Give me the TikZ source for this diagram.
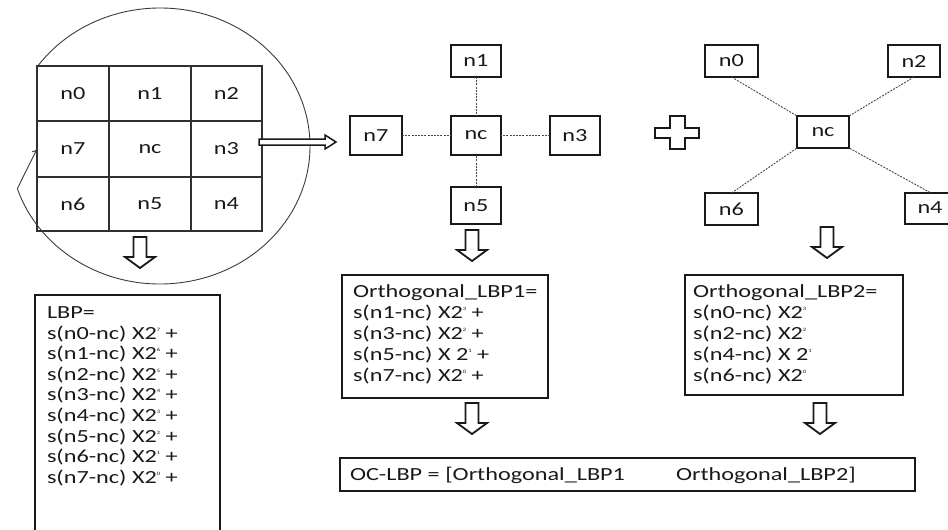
\documentclass[tikz,border=0pt]{standalone}
\usepackage{fontspec}
\setmainfont{Carlito}[FakeStretch=1.31]
\usetikzlibrary{arrows.meta}
\definecolor{ink}{RGB}{25,25,25}
\newcommand\ex[1]{\raisebox{8pt}{\fontsize{5}{5}\selectfont #1}}
\begin{document}
\begin{tikzpicture}[x=1pt,y=-1pt,
  font=\fontsize{18.5}{22}\selectfont, text=ink,
  every node/.style={inner sep=0pt, outer sep=0pt},
  txt/.style={anchor=base west},
  cell/.style={draw=ink!90, line width=1.3pt, minimum height=#1},
  nbox/.style={draw=ink, line width=2pt},
  tbox/.style={draw=ink, line width=2pt, anchor=north west},
  dline/.style={draw=ink!80, line width=0.9pt, dash pattern=on 2pt off 1.2pt},
  blockarrow/.style={draw=ink, line width=1.8pt, fill=white, line join=miter},
  pics/downarr/.style={code={
    \draw[blockarrow] (-6.5,0) -- (6.5,0) -- (6.5,20) -- (15,20) -- (0,31)
      -- (-15,20) -- (-6.5,20) -- cycle;}}
]
\useasboundingbox (0,0) rectangle (948,530);

% ---------- grid in ellipse ----------
\draw[ink!85, line width=0.9pt] (160,146) ++(215:150 and 138)
  arc[start angle=215, end angle=522, x radius=150, y radius=138]
  coordinate (arcend);
\node[cell=55pt, minimum width=72pt] (g0) at (73,93.5) {n0};
\node[cell=55pt, minimum width=82pt] (g1) at (150,93.5) {n1};
\node[cell=55pt, minimum width=71pt] (g2) at (226.5,93.5) {n2};
\node[cell=56pt, minimum width=72pt] (g7) at (73,149) {n7};
\node[cell=56pt, minimum width=82pt] (gc) at (150,149) {nc};
\node[cell=56pt, minimum width=71pt] (g3) at (226.5,149) {n3};
\node[cell=54pt, minimum width=72pt] (g6) at (73,204) {n6};
\node[cell=54pt, minimum width=82pt] (g5) at (150,204) {n5};
\node[cell=54pt, minimum width=71pt] (g4) at (226.5,204) {n4};
\draw[ink!85, line width=0.9pt, -{To[length=5pt,width=7pt]}] (arcend) -- (g7.west);

% right block arrow
\draw[blockarrow, line width=1.5pt] (259,139) -- (325,139) -- (325,135) -- (336,142)
  -- (325,149) -- (325,145) -- (259,145) -- cycle;
\pic at (140,237) {downarr};

% ---------- orthogonal neighbours ----------
\node[nbox, minimum width=50pt, minimum height=32pt] (a1) at (476,61) {n1};
\node[nbox, minimum width=50pt, minimum height=39pt] (ac) at (476,135.5) {nc};
\node[nbox, minimum width=52pt, minimum height=39pt] (a7) at (376,135.5) {n7};
\node[nbox, minimum width=50pt, minimum height=39pt] (a3) at (575,135.5) {n3};
\node[nbox, minimum width=50pt, minimum height=37pt] (a5) at (476,205.5) {n5};
\draw[dline] (a1) -- (ac);
\draw[dline] (a5) -- (ac);
\draw[dline] (a7) -- (ac);
\draw[dline] (a3) -- (ac);
\pic at (472,230) {downarr};

% plus sign
\draw[blockarrow, line width=2pt] (670,116) -- (685,116) -- (685,128) -- (699,128)
  -- (699,138) -- (685,138) -- (685,149) -- (670,149) -- (670,138) -- (655,138)
  -- (655,128) -- (670,128) -- cycle;

% ---------- diagonal neighbours ----------
\node[nbox, minimum width=53pt, minimum height=32pt] (b0) at (731.5,61) {n0};
\node[nbox, minimum width=52pt, minimum height=32pt] (b2) at (914,61) {n2};
\node[nbox, minimum width=52pt, minimum height=32pt] (bc) at (823,132) {nc};
\node[nbox, minimum width=53pt, minimum height=32pt] (b6) at (731.5,209) {n6};
\node[nbox, minimum width=50pt, minimum height=31pt] (b4) at (930,208) {n4};
\draw[dline] (b0.south) -- (bc.north west);
\draw[dline] (b2.south) -- (bc.north east);
\draw[dline] (b6.north) -- (bc.south west);
\draw[dline] (b4.north) -- (bc.south east);
\pic at (827,227) {downarr};

% ---------- LBP box ----------
\node[tbox, minimum width=185pt, minimum height=260pt] (lbpbox) at (35,295) {};
\foreach \t [count=\i from 0] in {{LBP=},
  {s(n0-nc) X2\ex{7} +},{s(n1-nc) X2\ex{6} +},{s(n2-nc) X2\ex{5} +},
  {s(n3-nc) X2\ex{4} +},{s(n4-nc) X2\ex{3} +},{s(n5-nc) X2\ex{2} +},
  {s(n6-nc) X2\ex{1} +},{s(n7-nc) X2\ex{0} +}}
  \node[txt] (lbp\i) at (47,{318.5+20.6*\i}) {\t};

% ---------- Orthogonal LBP1 ----------
\node[tbox, minimum width=206pt, minimum height=123pt] (o1box) at (342,275) {};
\foreach \t [count=\i from 0] in {{Orthogonal\_LBP1=},
  {s(n1-nc) X2\ex{3} +},{s(n3-nc) X2\ex{2} +},{s(n5-nc) X 2\ex{1} +},
  {s(n7-nc) X2\ex{0} +}}
  \node[txt] (o1l\i) at (353,{297.5+21.1*\i}) {\t};
\pic at (472,403) {downarr};

% ---------- Orthogonal LBP2 ----------
\node[tbox, minimum width=218pt, minimum height=120pt] (o2box) at (685,275) {};
\foreach \t [count=\i from 0] in {{Orthogonal\_LBP2=},
  {s(n0-nc) X2\ex{3}},{s(n2-nc) X2\ex{2}},{s(n4-nc) X 2\ex{1}},
  {s(n6-nc) X2\ex{0}}}
  \node[txt] (o2l\i) at (693,{297.5+21.1*\i}) {\t};
\pic at (820,403) {downarr};

% ---------- OC-LBP ----------
\node[tbox, minimum width=575pt, minimum height=33pt] (ocbox) at (340,458) {};
\node[txt] (oc1) at (350,480) {OC-LBP = [Orthogonal\_LBP1};
\node[txt] (oc2) at (676,480) {Orthogonal\_LBP2]};
\end{tikzpicture}
\end{document}
